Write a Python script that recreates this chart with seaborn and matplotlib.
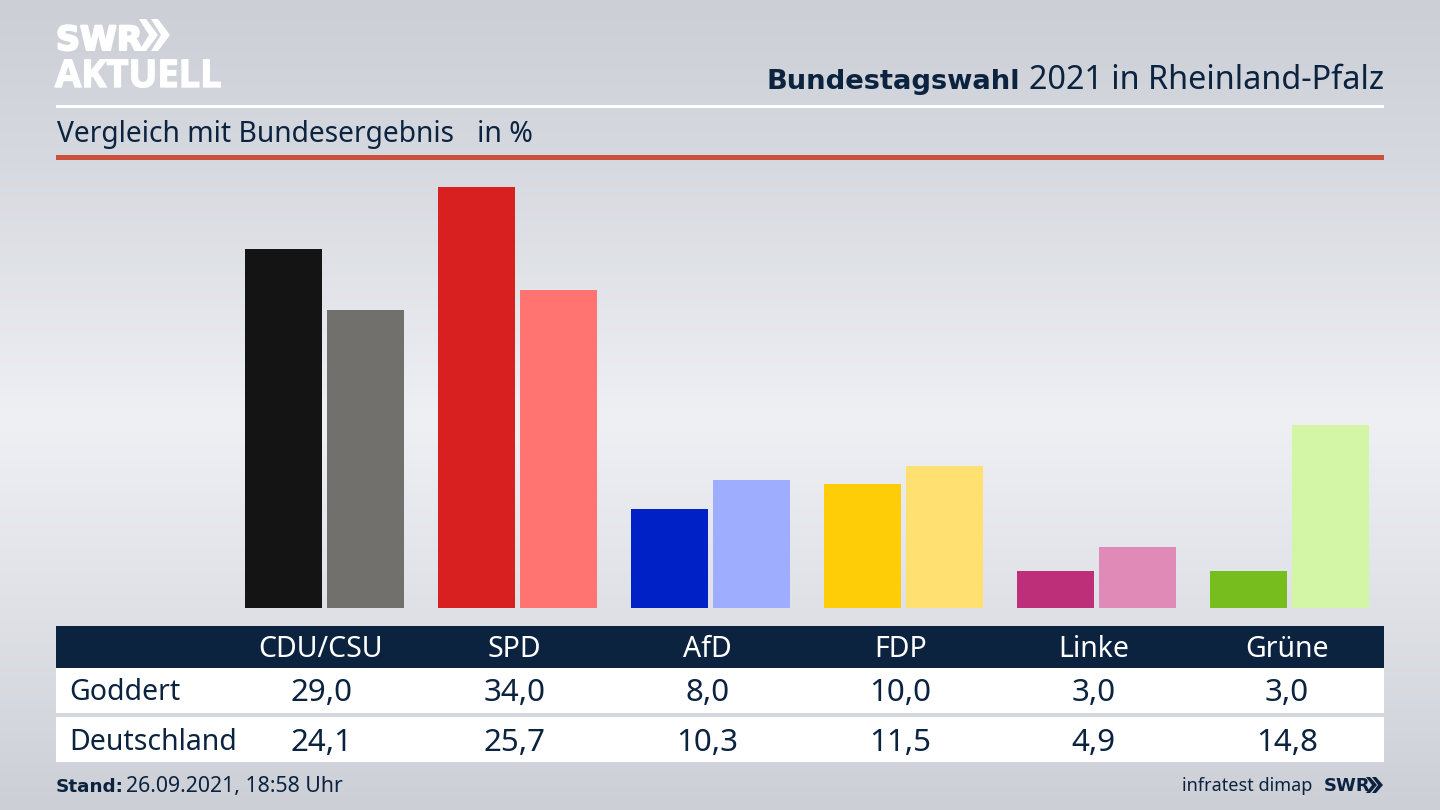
import matplotlib
matplotlib.use("Agg")
import matplotlib.pyplot as plt
import matplotlib.patheffects as pe
from matplotlib.patches import Rectangle, Polygon
import seaborn as sns
import pandas as pd
import numpy as np

# values
parties = ['CDU/CSU', 'SPD', 'AfD', 'FDP', 'Linke', 'Grüne']
goddert = [29.0, 34.0, 8.0, 10.0, 3.0, 3.0]
deutschland = [24.1, 25.7, 10.3, 11.5, 4.9, 14.8]
colors_goddert = ['#141414', '#d7201f', '#0021c6', '#ffcc08', '#bd2f78', '#78bd1e']
colors_deutschland = ['#72706d', '#ff7370', '#9fadff', '#ffe070', '#e08ab8', '#d2f6a6']

NAVY = '#0c2340'
HEAVY = ['DejaVu Sans']

sns.set_theme(style='white')
plt.rcParams['font.family'] = ['Noto Sans', 'DejaVu Sans']

fig = plt.figure(figsize=(14.4, 8.1), dpi=100)

# overlay in pixel coordinates for background, header and table
bg = fig.add_axes([0, 0, 1, 1], zorder=0)
bg.set_xlim(0, 1440)
bg.set_ylim(810, 0)
bg.axis('off')

yy = np.linspace(0, 1, 200)
shade = np.interp(yy, [0, 0.2, 0.52, 0.8, 1], [0, 0.3, 1, 0.45, 0])
top = np.array([204, 207, 214]) / 255
mid = np.array([238, 240, 244]) / 255
grad = top[None, :] + shade[:, None] * (mid - top)[None, :]
bg.imshow(grad[:, None, :], extent=(0, 1440, 810, 0), aspect='auto', zorder=0)

# header
bg.add_patch(Rectangle((56, 104.5), 1328, 3, color='white', lw=0))
bg.add_patch(Rectangle((56, 155), 1328, 5, color='#c8503c', lw=0))
bg.text(56, 50, 'SWR', color='white', fontsize=24, fontweight='bold', va='baseline', family=HEAVY,
        path_effects=[pe.withStroke(linewidth=1.5, foreground='white')])
for dx in (0, 12):
    bg.add_patch(Polygon([(139 + dx, 19), (146 + dx, 19), (158 + dx, 35), (146 + dx, 51), (139 + dx, 51), (149 + dx, 35)],
                         color='white', lw=0))
bg.text(55, 87, 'AKTUELL', color='white', fontsize=27.4, fontweight='bold', va='baseline',
        family=['Open Sans', 'DejaVu Sans'],
        path_effects=[pe.withStroke(linewidth=1, foreground='white')])

bg.text(1384, 89, '2021 in Rheinland-Pfalz', color=NAVY, fontsize=23.3, ha='right', va='baseline')
bg.text(1020, 89, 'Bundestagswahl', color=NAVY, fontsize=19.7, fontweight='bold', ha='right', va='baseline', family=HEAVY)
bg.text(57, 142, 'Vergleich mit Bundesergebnis', color=NAVY, fontsize=20.3, va='baseline')
bg.text(477, 142, 'in %', color=NAVY, fontsize=20.5, va='baseline')

# table
bg.add_patch(Rectangle((56, 626), 1328, 42, color=NAVY, lw=0))
bg.add_patch(Rectangle((56, 668), 1328, 45, color='white', lw=0))
bg.add_patch(Rectangle((56, 717), 1328, 45, color='white', lw=0))
bg.text(69, 700, 'Goddert', color=NAVY, fontsize=20.5, va='baseline')
bg.text(69, 750, 'Deutschland', color=NAVY, fontsize=20.5, va='baseline')
for i, party in enumerate(parties):
    x = 321 + 193.2 * i
    bg.text(x, 657, party, color='white', fontsize=20.5, ha='center', va='baseline')
    bg.text(x, 701, f'{goddert[i]:.1f}'.replace('.', ','), color=NAVY, fontsize=22.5, ha='center', va='baseline')
    bg.text(x, 751, f'{deutschland[i]:.1f}'.replace('.', ','), color=NAVY, fontsize=22.5, ha='center', va='baseline')

# footer
bg.text(56, 792, 'Stand:', color=NAVY, fontsize=13.2, fontweight='bold', va='baseline', family=HEAVY)
bg.text(126, 792, '26.09.2021, 18:58 Uhr', color=NAVY, fontsize=15.3, va='baseline')
bg.text(1312, 791, 'infratest dimap', color=NAVY, fontsize=13, ha='right', va='baseline')
bg.text(1324, 791, 'SWR', color=NAVY, fontsize=13, fontweight='bold', va='baseline', family=HEAVY)
for dx in (0, 6):
    bg.add_patch(Polygon([(1366 + dx, 777), (1370 + dx, 777), (1377 + dx, 785), (1370 + dx, 793), (1366 + dx, 793), (1372 + dx, 785)],
                         color=NAVY, lw=0))

# bars
df = pd.DataFrame({
    'party': parties * 2,
    'value': goddert + deutschland,
    'series': ['Goddert'] * 6 + ['Deutschland'] * 6,
})
ax = fig.add_axes([56 / 1440, (810 - 608) / 810, 1328 / 1440, 448 / 810], zorder=1)
ax.patch.set_alpha(0)
sns.barplot(data=df, x='party', y='value', hue='series', order=parties, hue_order=['Goddert', 'Deutschland'],
            width=0.85, gap=0.065, legend=False, ax=ax, saturation=1)
for bars, cols in zip(ax.containers, [colors_goddert, colors_deutschland]):
    for bar, col in zip(bars, cols):
        bar.set_facecolor(col)
        bar.set_edgecolor('none')
ax.set_xlim((56 - 324.5) / 193.05, (1384 - 324.5) / 193.05)
ax.set_ylim(0, 448 / 12.38)
ax.axis('off')

fig.savefig('out.png', dpi=100)
